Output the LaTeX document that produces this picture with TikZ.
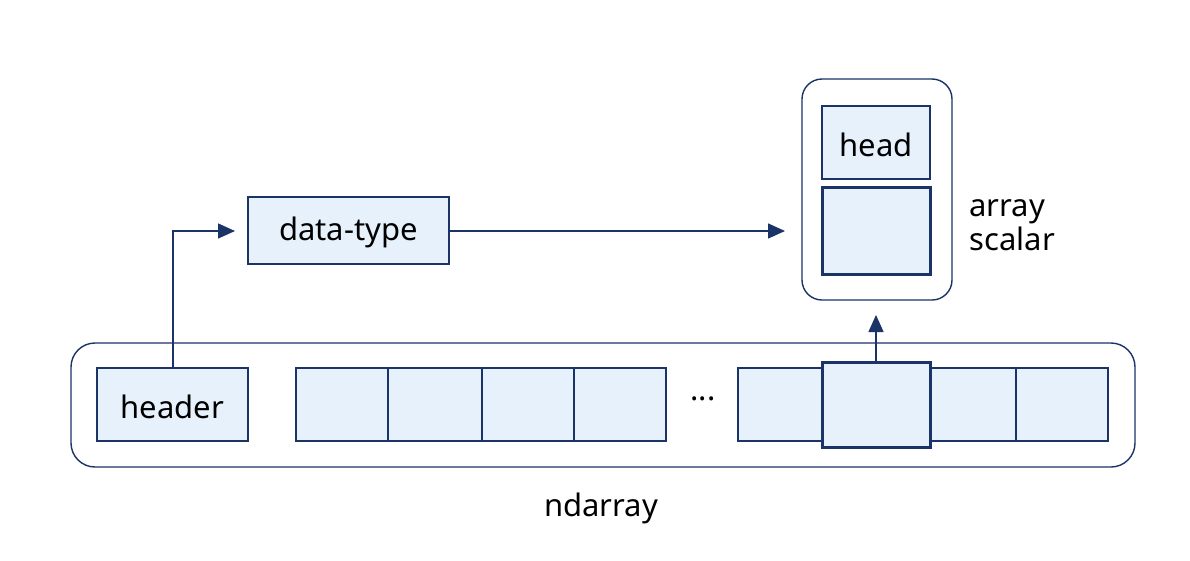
\documentclass[tikz,border=0pt]{standalone}
\usepackage{fontspec}
\setmainfont{Noto Sans}
\usetikzlibrary{arrows.meta}
\definecolor{navy}{HTML}{1B3468}
\definecolor{cellfill}{HTML}{E6F1FC}
\begin{document}
\begin{tikzpicture}[x=1pt,y=-1pt,
  cell/.style={draw=navy,fill=cellfill,line width=1.4pt},
  boldcell/.style={draw=navy,fill=cellfill,line width=3pt},
  outer/.style={draw=navy,line width=1.4pt,rounded corners=24pt},
  lbl/.style={font=\fontsize{31}{36}\selectfont,text=black},
  conn/.style={draw=navy,line width=1.4pt,-{Triangle[length=17pt,width=15pt]}}]
\useasboundingbox (0,0) rectangle (1190,560);
\fill[white] (0,0) rectangle (1190,560);
% ndarray container
\draw[outer] (71,343) rectangle (1135,467);
\node[lbl] (ndl) at (601,508) {ndarray};
% header
\draw[cell] (97,368) rectangle (248,441);
\node[lbl] (header) at (172.5,407) {header};
\coordinate (headertop) at (173,368);
% cells
\foreach \a/\b in {296/388,388/482,482/574,574/666,738/822,930/1016,1016/1108}
  \draw[cell] (\a,368) rectangle (\b,441);
\draw[boldcell] (822,362) rectangle (930,447);
\coordinate (selcell) at (876,362);
\node[lbl] (dots) at (703,399) {...};
% data-type
\draw[cell] (248,197) rectangle (449,264);
\node[lbl] (dt) at (348.5,232) {data-type};
\coordinate (dtleft) at (235,231);
\coordinate (dtright) at (449,231);
% array scalar
\draw[outer,rounded corners=20pt] (802,79) rectangle (952,300);
\draw[cell] (822,106) rectangle (930,179);
\node[lbl] (head) at (876,145) {head};
\draw[boldcell] (822,187) rectangle (930,274);
\coordinate (asbottom) at (876,315);
\coordinate (asleft) at (785,231);
\node[lbl,align=left,anchor=west] (asl) at (966,225) {array\\[-2pt]scalar};
% connectors
\draw[conn] (headertop) |- (dtleft);
\draw[conn] (dtright) -- (asleft);
\draw[conn] (selcell) -- (asbottom);
\end{tikzpicture}
\end{document}
